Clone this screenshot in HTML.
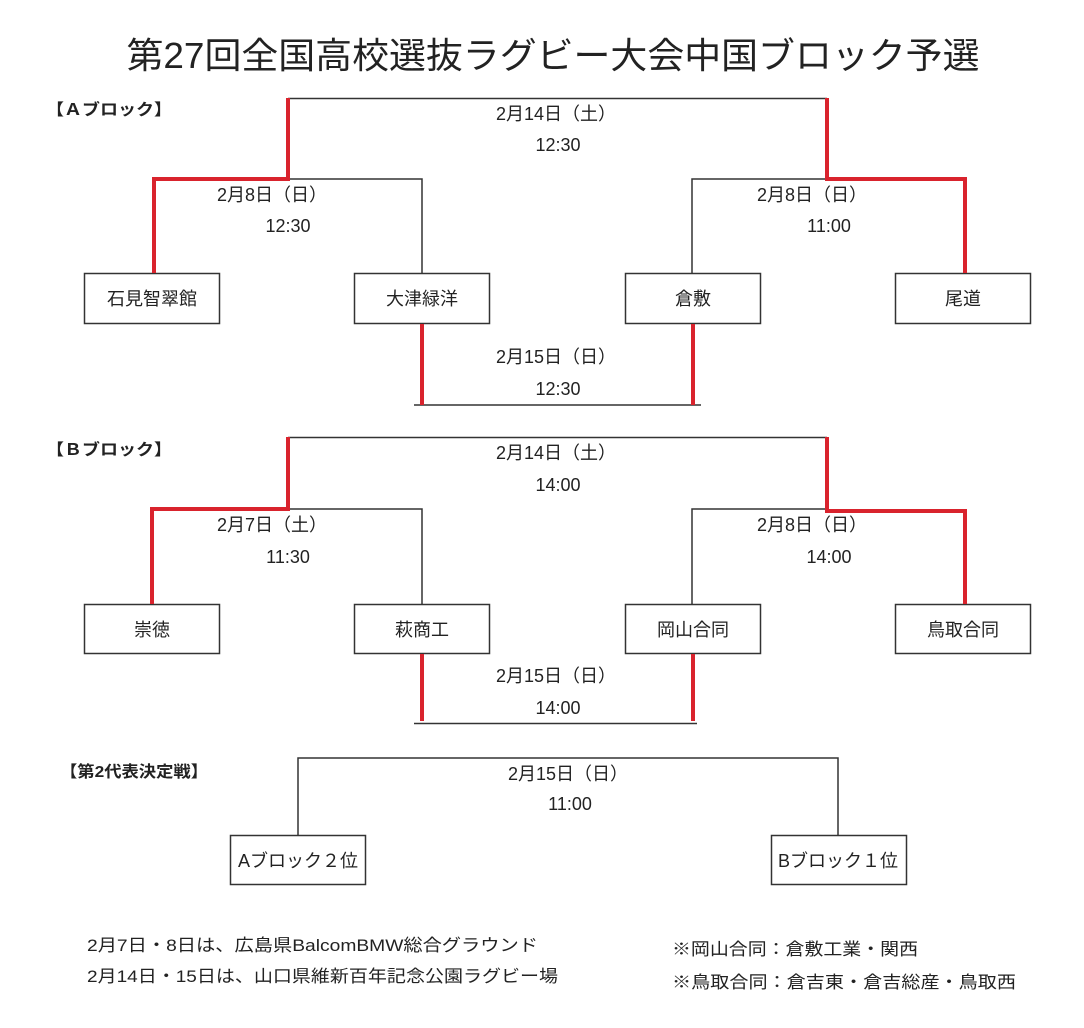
<!DOCTYPE html>
<html><head><meta charset="utf-8"><style>
html,body{margin:0;padding:0;background:#fff;}
svg{display:block;}
text{font-family:"Liberation Sans","Noto Sans CJK JP",sans-serif;fill:#222;}
</style></head><body>
<svg width="1084" height="1028" viewBox="0 0 1084 1028" xmlns="http://www.w3.org/2000/svg">
<text x="553" y="68" font-size="36" text-anchor="middle" textLength="853" lengthAdjust="spacingAndGlyphs">第27回全国高校選抜ラグビー大会中国ブロック予選</text>

<g id="A">
<text x="46" y="115" font-size="16" font-weight="bold" fill="#111" textLength="126" lengthAdjust="spacingAndGlyphs">【Ａブロック】</text>
<g stroke="#333" stroke-width="1.5" fill="none">
<polyline points="288,98.5 827,98.5"/>
<polyline points="288,179 422,179 422,273"/>
<polyline points="827,179 692,179 692,273"/>
<polyline points="414,405 701,405"/>
<rect x="84.5" y="273.5" width="135" height="50"/>
<rect x="354.5" y="273.5" width="135" height="50"/>
<rect x="625.5" y="273.5" width="135" height="50"/>
<rect x="895.5" y="273.5" width="135" height="50"/>
</g>
<g stroke="#d9232d" stroke-width="4" fill="none" stroke-linejoin="miter">
<polyline points="288,98 288,179 154,179 154,273"/>
<polyline points="827,98 827,179 965,179 965,273"/>
<line x1="422" y1="324" x2="422" y2="405"/>
<line x1="693" y1="324" x2="693" y2="405"/>
</g>
<g font-size="18" text-anchor="middle">
<text x="556" y="120">2月14日（土）</text><text x="558" y="151">12:30</text>
<text x="272" y="201">2月8日（日）</text><text x="288" y="232">12:30</text>
<text x="812" y="201">2月8日（日）</text><text x="829" y="232">11:00</text>
<text x="556" y="363">2月15日（日）</text><text x="558" y="395">12:30</text>
<text x="152" y="305">石見智翠館</text><text x="422" y="305">大津緑洋</text>
<text x="693" y="305">倉敷</text><text x="963" y="305">尾道</text>
</g>
</g>

<g id="B">
<text x="46" y="455" font-size="16" font-weight="bold" fill="#111" textLength="126" lengthAdjust="spacingAndGlyphs">【Ｂブロック】</text>
<g stroke="#333" stroke-width="1.5" fill="none">
<polyline points="288,437.5 827,437.5"/>
<polyline points="288,509 422,509 422,604"/>
<polyline points="827,509 692,509 692,604"/>
<polyline points="414,723.5 697,723.5"/>
<rect x="84.5" y="604.5" width="135" height="49"/>
<rect x="354.5" y="604.5" width="135" height="49"/>
<rect x="625.5" y="604.5" width="135" height="49"/>
<rect x="895.5" y="604.5" width="135" height="49"/>
</g>
<g stroke="#d9232d" stroke-width="4" fill="none">
<polyline points="288,437 288,509 152,509 152,604"/>
<polyline points="827,437 827,511 965,511 965,604"/>
<line x1="422" y1="654" x2="422" y2="721"/>
<line x1="693" y1="654" x2="693" y2="721"/>
</g>
<g font-size="18" text-anchor="middle">
<text x="556" y="459">2月14日（土）</text><text x="558" y="491">14:00</text>
<text x="272" y="531">2月7日（土）</text><text x="288" y="563">11:30</text>
<text x="812" y="531">2月8日（日）</text><text x="829" y="563">14:00</text>
<text x="556" y="682">2月15日（日）</text><text x="558" y="714">14:00</text>
<text x="152" y="636">崇徳</text><text x="422" y="636">萩商工</text>
<text x="693" y="636">岡山合同</text><text x="963" y="636">鳥取合同</text>
</g>
</g>

<g id="C">
<text x="60" y="777" font-size="16" font-weight="bold" fill="#111" textLength="148" lengthAdjust="spacingAndGlyphs">【第2代表決定戦】</text>
<g stroke="#333" stroke-width="1.5" fill="none">
<polyline points="298,835 298,758 838,758 838,835"/>
<rect x="230.5" y="835.5" width="135" height="49"/>
<rect x="771.5" y="835.5" width="135" height="49"/>
</g>
<g font-size="18" text-anchor="middle">
<text x="568" y="780">2月15日（日）</text><text x="570" y="810">11:00</text>
<text x="298" y="867">Aブロック２位</text><text x="838" y="867">Bブロック１位</text>
</g>
</g>

<g font-size="17">
<text x="87" y="951" textLength="451" lengthAdjust="spacingAndGlyphs">2月7日・8日は、広島県BalcomBMW総合グラウンド</text>
<text x="87" y="982" textLength="471" lengthAdjust="spacingAndGlyphs">2月14日・15日は、山口県維新百年記念公園ラグビー場</text>
<text x="672" y="955" textLength="246" lengthAdjust="spacingAndGlyphs">※岡山合同：倉敷工業・関西</text>
<text x="672" y="988" textLength="344" lengthAdjust="spacingAndGlyphs">※鳥取合同：倉吉東・倉吉総産・鳥取西</text>
</g>
</svg>
</body></html>
